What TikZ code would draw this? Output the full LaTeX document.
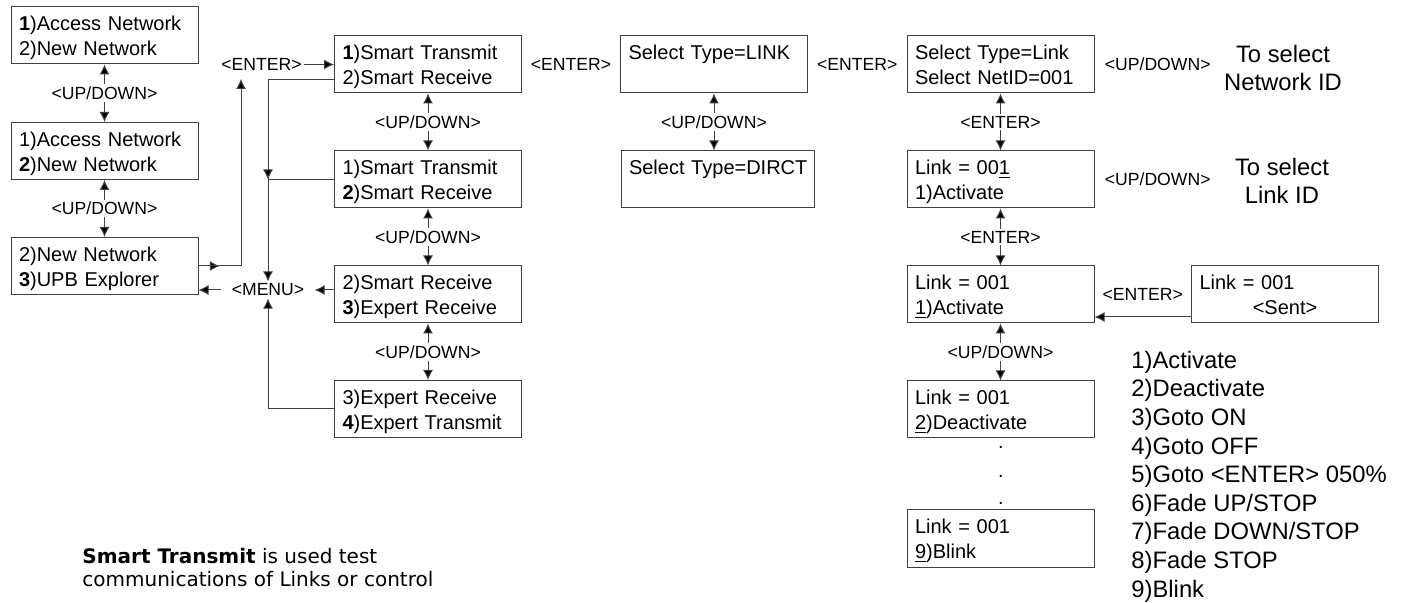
\documentclass[tikz,border=0pt]{standalone}
\usepackage{fontspec}
\setmainfont{Liberation Sans}
\newfontfamily\notefont{DejaVu Sans}
\usetikzlibrary{arrows.meta,positioning,calc}

\tikzset{
  lcd/.style={draw=black!75, line width=0.5pt, inner xsep=4pt, inner ysep=0pt,
    text width=85.5pt, minimum height=28.5pt, align=left,
    font=\fontsize{10}{12.5}\selectfont},
  lcdwide/.style={lcd, text width=88.5pt},
  keylbl/.style={inner sep=1pt, font=\fontsize{8.8}{10}\selectfont},
  hint/.style={align=center, inner sep=0pt, font=\fontsize{11.9}{14}\selectfont},
  link/.style={draw=black!75, line width=0.5pt},
  tip/.style={link, -{Latex[length=5pt,width=5pt,fill=black]}},
}
\newcommand{\lcdtext}[2]{\rule{0pt}{10pt}\mbox{#1}\\\mbox{#2}\rule[-2.2pt]{0pt}{2.2pt}}

\begin{document}
\begin{tikzpicture}[x=0.5pt,y=-0.5pt]
\useasboundingbox (0,0) rectangle (1402,603);

% network menu
\node[lcd] (L1) at (104.5,35.5) {\lcdtext{\textbf{1})Access Network}{2)New Network}};
\node[lcd] (L2) at (104.5,151) {\lcdtext{1)Access Network}{\textbf{2})New Network}};
\node[lcd] (L3) at (104.5,266) {\lcdtext{2)New Network}{\textbf{3})UPB Explorer}};

% explorer menu
\node[lcd] (S1) at (428,64.5) {\lcdtext{\textbf{1})Smart Transmit}{2)Smart Receive}};
\node[lcd] (S2) at (428,179.5) {\lcdtext{1)Smart Transmit}{\textbf{2})Smart Receive}};
\node[lcd] (S3) at (428,294.5) {\lcdtext{2)Smart Receive}{\textbf{3})Expert Receive}};
\node[lcd] (S4) at (428,409) {\lcdtext{3)Expert Receive}{\textbf{4})Expert Transmit}};

% type select
\node[lcd] (T1) at (714,64.5) {\lcdtext{Select Type=LINK}{}};
\node[lcdwide] (T2) at (717.5,179.5) {\lcdtext{Select Type=DIRCT}{}};

% link screens
\node[lcd] (K1) at (1000.5,64.5) {\lcdtext{Select Type=Link}{Select NetID=001}};
\node[lcd] (K2) at (1000.5,179.5) {\lcdtext{Link = 00\underline{1}}{1)Activate}};
\node[lcd] (K3) at (1000.5,294.5) {\lcdtext{Link = 001}{\underline{1})Activate}};
\node[lcd] (K4) at (1000.5,409.5) {\lcdtext{Link = 001}{\underline{2})Deactivate}};
\node[lcd] (K5) at (1000.5,538.5) {\lcdtext{Link = 001}{\underline{9})Blink}};
\node[lcd] (Sent) at (1285,294.5) {\lcdtext{Link = 001}{\makebox[85.5pt]{<Sent>}}};

\foreach \y [count=\i] in {447,476,503}
  \node[inner sep=0pt, font=\fontsize{10}{12.5}\selectfont] (dot\i) at (1001,\y) {.};

% up/down keys
\foreach \a/\b in {L1/L2,L2/L3,S1/S2,S2/S3,S3/S4,T1/T2,K3/K4}{
  \path (\a.south) -- (\a.south |- \b.north) node[midway,keylbl] (ud\a) {<UP/DOWN>};
  \draw[tip] (ud\a.north) -- (\a.south);
  \draw[tip] (ud\a.south) -- (ud\a.south |- \b.north);
}
\foreach \a/\b in {K1/K2,K2/K3}{
  \path (\a.south) -- (\a.south |- \b.north) node[midway,keylbl] (en\a) {<ENTER>};
  \draw[tip] (en\a.north) -- (\a.south);
  \draw[tip] (en\a.south) -- (en\a.south |- \b.north);
}

% enter keys
\node[keylbl, left=15pt of S1] (enter) {<ENTER>};
\path (S1) -- (T1) node[midway,keylbl] (enS1) {<ENTER>};
\path (T1) -- (K1) node[midway,keylbl] (enT1) {<ENTER>};
\path (K3) -- (Sent) node[midway,keylbl] (enSent) {<ENTER>};
\node[keylbl, right=4pt of K1] (udK1) {<UP/DOWN>};
\node[keylbl, right=4pt of K2] (udK2) {<UP/DOWN>};

\coordinate (up) at (241,266);
\draw[tip] (enter.east) -- (S1.west);
\draw[tip] (L3.east) -- ($(L3.east)!0.5!(up)$);
\draw[tip, shorten >=3pt] (L3.east) -- (up) -- (up |- enter.south);
\draw[tip] ([yshift=-11.25pt]Sent.west) -- ([yshift=-11.25pt]K3.east);

% menu key
\node[keylbl, inner xsep=5pt] (menu) at (268,290) {<MENU>};
\coordinate (mtop) at (268,80);
\draw[tip] (mtop -| S1.west) -- (mtop) -- (menu.north);
\draw[tip] (mtop) -- (mtop |- S2.west);
\draw[link] (S2.west) -- (mtop |- S2.west);
\draw[tip] (S4.west) -- (mtop |- S4.west) -- (menu.south);
\draw[tip] (menu.east -| S3.west) -- (menu.east);
\draw[tip] (menu.west) -- (menu.west -| L3.east);

% notes
\node[hint, anchor=base] (netid) at (1283,91) {To select\\Network ID};
\node[hint, anchor=base] (linkid) at (1282,204) {To select\\Link ID};
\node[anchor=base west, align=left, inner sep=0pt, font=\fontsize{11.9}{14.3}\selectfont]
  (acts) at (1131,597) {1)Activate\\2)Deactivate\\3)Goto ON\\4)Goto OFF\\5)Goto <ENTER> 050\%\\6)Fade UP/STOP\\7)Fade DOWN/STOP\\8)Fade STOP\\9)Blink};
\node[anchor=base west, align=left, inner sep=0pt, font=\notefont\fontsize{10}{11}\selectfont]
  (note) at (82,586) {\textbf{Smart Transmit} is used test\\communications of Links or control};
\end{tikzpicture}
\end{document}
